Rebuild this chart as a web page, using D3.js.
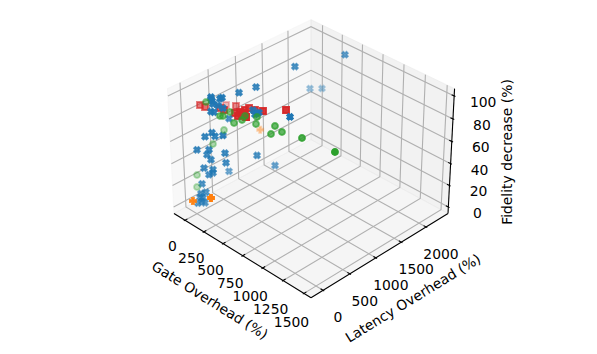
<!DOCTYPE html>
<html>
<head>
<meta charset="utf-8">
<script src="https://d3js.org/d3.v7.min.js"></script>
<style>
body { margin: 0; background: #fff; }
text { font-family: "DejaVu Sans", sans-serif; font-size: 13.9px; fill: #000; }
</style>
</head>
<body>
<svg id="chart" width="597" height="354"></svg>
<script>
const xTicks = [0, 250, 500, 750, 1000, 1250, 1500];
const yTicks = [0, 500, 1000, 1500, 2000];
const zTicks = [0, 20, 40, 60, 80, 100];
const xLim = [-148, 1583], yLim = [-220, 2454], zLim = [-6.1, 106.3];

const blueGate = [430, 250, 50, 100, 150, 100, 40, 45, 100, 100, 80, 80, 100, 150, 60, 60, 20, 700, 300, 350, 350, 380, 50, 100, 120, 200, -20, 80, 60, 90, 180, 180, 300, 300, 0, 40, 100, 100, 70, 30, 50, 20, 20, 30, 0, 40, 30];
const blueLatency = [2221, 1530, 2128, 2291, 944, 702, 281, 273, 394, 357, 242, 258, 318, 337, 244, 297, 618, 754, 665, 666, 629, 659, 135, 194, 219, 252, 76, 157, 144, 172, 306, 318, 722, 1058, 616, 108, 188, 186, 153, 74, 113, 62, 41, 82, 27, 101, 60];
const blueFidelity = [100, 99, 58, 56, 91, 90, 94, 93, 93, 93, 93, 90, 88, 87, 83, 81, 66, 90, 83, 82, 82, 84, 63, 67, 64, 67, 50, 52, 47, 43, 49, 40, 41, 23, 17, 35, 34, 31, 29, 21, 13, 12, 9, 8, 3, 3, 5];

const redGate = [42, 97, 101, 244, 214, 262, 417, 476, 550, 690, 364, 396, 416, 443, 491, 404, 440];
const redLatency = [80, 93, 460, 439, 197, 200, 428, 449, 486, 697, 251, 295, 356, 263, 266, 247, 286];
const redFidelity = [92, 92, 85, 90, 93, 93, 95, 95, 96, 97, 93, 94, 95, 94, 94, 92, 95];

const greenGate = [-16, 210, 198, 216, 366, 418, 420, 502, 510, 714, 715, 797, 45, 9, -27, -16, 1048, 1465];
const greenLatency = [265, 376, 214, 242, 226, 351, 294, 446, 414, 458, 383, 460, 486, 327, 67, 43, 443, 388];
const greenFidelity = [88, 85, 85, 85, 85, 90, 88, 90, 85, 90, 85, 88, 60, 50, 27, 17, 93, 99];

const orangeGate = [-58, 85, 0];
const orangeLatency = [14, 153, 1223];
const orangeFidelity = [3, 8, 40];

const a = 0.5714, h = 0.4286, elev = 33 * Math.PI / 180, azim = -45 * Math.PI / 180;
const dist = 10, k = 1735, cx = 311, cy = 152.5;
const xScale = d3.scaleLinear().domain(xLim).range([-a, a]);
const yScale = d3.scaleLinear().domain(yLim).range([-a, a]);
const zScale = d3.scaleLinear().domain(zLim).range([-h, h]);

const W = [Math.cos(elev) * Math.cos(azim), Math.cos(elev) * Math.sin(azim), Math.sin(elev)];
const U = [Math.SQRT1_2, Math.SQRT1_2, 0];
const V = [W[1] * U[2] - W[2] * U[1], W[2] * U[0] - W[0] * U[2], W[0] * U[1] - W[1] * U[0]];
const dot = (p, q) => p[0] * q[0] + p[1] * q[1] + p[2] * q[2];

function project(x, y, z) {
    const p = [xScale(x), yScale(y), zScale(z)];
    const d = dist - dot(W, p);
    return { x: cx + k * dot(U, p) / d, y: cy - k * dot(V, p) / d, depth: dot(W, p) };
}

const svg = d3.select('#chart');
const pathOf = pts => d3.line().x(d => d.x).y(d => d.y)(pts);
const poly = pts => pathOf(pts) + 'Z';

// panes
const pane = (pts, fill) => svg.append('path').attr('d', poly(pts)).attr('fill', fill).attr('stroke', fill).attr('stroke-width', 1);
const [x0, x1] = xLim, [y0, y1] = yLim, [z0, z1] = zLim;
pane([project(x0, y0, z0), project(x0, y1, z0), project(x0, y1, z1), project(x0, y0, z1)], 'rgba(242,242,242,0.5)');
pane([project(x0, y1, z0), project(x1, y1, z0), project(x1, y1, z1), project(x0, y1, z1)], 'rgba(230,230,230,0.5)');
pane([project(x0, y0, z0), project(x1, y0, z0), project(x1, y1, z0), project(x0, y1, z0)], 'rgba(236,236,236,0.5)');

// grid
const grid = pts => svg.append('path').attr('d', pathOf(pts)).attr('fill', 'none').attr('stroke', '#b0b0b0').attr('stroke-width', 1.1);
xTicks.forEach(t => grid([project(t, y0, z0), project(t, y1, z0), project(t, y1, z1)]));
yTicks.forEach(t => grid([project(x1, t, z0), project(x0, t, z0), project(x0, t, z1)]));
zTicks.forEach(t => grid([project(x0, y0, t), project(x0, y1, t), project(x1, y1, t)]));

// axis lines and ticks
const ink = pts => svg.append('path').attr('d', pathOf(pts)).attr('fill', 'none').attr('stroke', '#000').attr('stroke-width', 1.1);
ink([project(x0, y0, z0), project(x1, y0, z0)]);
ink([project(x1, y0, z0), project(x1, y1, z0)]);
ink([project(x1, y1, z0), project(x1, y1, z1)]);
const dy = (y1 - y0) / 12, dx = (x1 - x0) / 12;

const label = (t, p, ox, oy) => svg.append('text').attr('x', p.x + ox).attr('y', p.y + oy).attr('dy', '0.36em').attr('text-anchor', 'middle').text(t);
xTicks.forEach(t => {
    ink([project(t, y0 + 0.2 * dy, z0), project(t, y0 - 0.1 * dy, z0)]);
    label(t, project(t, y0, z0), -12.5, 26 + t / 600);
});
yTicks.forEach(t => {
    ink([project(x1 - 0.2 * dx, t, z0), project(x1 + 0.1 * dx, t, z0)]);
    label(t, project(x1, t, z0), 15, 27);
});
zTicks.forEach(t => {
    ink([project(x1 - 0.2 * dx, y1, t), project(x1 + 0.1 * dx, y1, t)]);
    label(t, project(x1, y1, t), 29, 6);
});

const axisLabel = (t, px, py, rot) => svg.append('text').attr('transform', `translate(${px},${py}) rotate(${rot})`).attr('dy', '0.36em').attr('text-anchor', 'middle').text(t);
axisLabel('Gate Overhead (%)', 210, 300, 32);
axisLabel('Latency Overhead (%)', 413, 298, -31.5);
axisLabel('Fidelity decrease (%)', 507, 152, -90);

// markers
const size = 6;
const unit = pts => d3.line()(pts.map(p => [p[0] * size, p[1] * size])) + 'Z';
const xShape = unit([[-1,-2],[0,-1],[1,-2],[2,-1],[1,0],[2,1],[1,2],[0,1],[-1,2],[-2,1],[-1,0],[-2,-1]].map(p => [p[0] / 4, p[1] / 4]));
const plusShape = unit([[-1,-3],[1,-3],[1,-1],[3,-1],[3,1],[1,1],[1,3],[-1,3],[-1,1],[-3,1],[-3,-1],[-1,-1]].map(p => [p[0] / 6, p[1] / 6]));
const squareShape = unit([[-0.5,-0.5],[0.5,-0.5],[0.5,0.5],[-0.5,0.5]]);
const circleShape = d3.symbol().type(d3.symbolCircle).size(Math.PI * size * size / 4)();

function scatter(gate, latency, fidelity, color, shape, strokeWidth) {
    const pts = gate.map((g, i) => project(g, latency[i], fidelity[i]));
    const depth = d3.extent(pts, d => d.depth);
    const alpha = d3.scaleLinear().domain(depth).range([0.3, 1]);
    pts.sort((p, q) => p.depth - q.depth);
    svg.append('g').selectAll('path').data(pts).enter().append('path')
        .attr('d', shape)
        .attr('transform', d => `translate(${d.x},${d.y})`)
        .attr('fill', color)
        .attr('stroke', color)
        .attr('stroke-width', strokeWidth)
        .attr('fill-opacity', d => alpha(d.depth))
        .attr('stroke-opacity', d => alpha(d.depth));
}

scatter(redGate, redLatency, redFidelity, '#d62728', squareShape, 1.9);
scatter(blueGate, blueLatency, blueFidelity, '#1f77b4', xShape, 1.6);
scatter(orangeGate, orangeLatency, orangeFidelity, '#ff7f0e', plusShape, 1.9);
scatter(greenGate, greenLatency, greenFidelity, '#2ca02c', circleShape, 1.9);
</script>
</body>
</html>
